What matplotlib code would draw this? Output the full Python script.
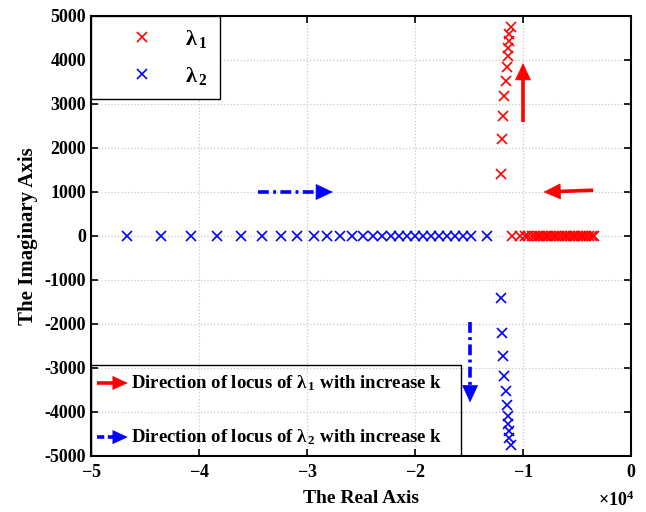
import matplotlib
matplotlib.use("Agg")
import matplotlib.pyplot as plt
import numpy as np
from matplotlib.ticker import ScalarFormatter, MultipleLocator
from matplotlib.patches import Rectangle

plt.rcParams['font.family'] = ['Liberation Serif', 'DejaVu Serif']
plt.rcParams['font.weight'] = 'bold'
plt.rcParams['axes.unicode_minus'] = False
plt.rcParams['mathtext.fontset'] = 'custom'
plt.rcParams['mathtext.rm'] = 'Liberation Serif:bold'
plt.rcParams['mathtext.it'] = 'Liberation Serif:bold'
plt.rcParams['mathtext.bf'] = 'Liberation Serif:bold'

# --- data (real parts x1e4, imaginary parts) ---
# lambda1 on the real axis (red)
l1_real_axis = np.array([-1.105, -1.03, -0.985, -0.95, -0.92, -0.89, -0.865, -0.84, -0.815,
                         -0.79, -0.765, -0.74, -0.715, -0.69, -0.665, -0.64, -0.615, -0.59,
                         -0.565, -0.54, -0.515, -0.49, -0.465, -0.44, -0.415, -0.39, -0.365,
                         -0.34]) * 1e4
# complex branch (real, imag); lambda1 upper, lambda2 its conjugate
branch_real = np.array([-1.2065, -1.191, -1.182, -1.173, -1.160, -1.145, -1.136, -1.136,
                        -1.130, -1.127, -1.111]) * 1e4
branch_imag = np.array([1400, 2210, 2727, 3182, 3520, 3848, 4090, 4265, 4430, 4600, 4755])

# lambda2 on the real axis (blue)
l2_real_axis = np.array([-4.667, -4.352, -4.074, -3.833, -3.611, -3.417, -3.241, -3.093,
                         -2.935, -2.815, -2.694, -2.583, -2.481, -2.389, -2.306, -2.222,
                         -2.148, -2.074, -2.0, -1.926, -1.852, -1.778, -1.704, -1.630,
                         -1.556, -1.481, -1.333]) * 1e4

legend_labels = [r'λ$_{\,1}$', r'λ$_{\,2}$']
box_labels = ['Direction of locus of λ$_{\\,1}$ with increase k',
              'Direction of locus of λ$_{\\,2}$ with increase k']

fig = plt.figure(figsize=(6.46, 5.12), dpi=100)
ax = fig.add_axes([91/646, 56/512, 540/646, 440/512])

ms = 7
mew = 1.2
l1, = ax.plot(np.concatenate([l1_real_axis, branch_real]),
              np.concatenate([np.zeros_like(l1_real_axis), branch_imag]),
              linestyle='none', marker='x', color='red', ms=ms, mew=mew, label=legend_labels[0])
l2, = ax.plot(np.concatenate([l2_real_axis, branch_real]),
              np.concatenate([np.zeros_like(l2_real_axis), -branch_imag]),
              linestyle='none', marker='x', color='blue', ms=ms, mew=mew, label=legend_labels[1])

ax.set_xlim(-5e4, 0)
ax.set_ylim(-5000, 5000)
ax.yaxis.set_major_locator(MultipleLocator(1000))
ax.xaxis.set_major_locator(MultipleLocator(1e4))
fmt = ScalarFormatter(useMathText=True)
fmt.set_powerlimits((0, 0))
ax.xaxis.set_major_formatter(fmt)
ax.xaxis.get_offset_text().set_visible(False)
fig.text(634/646, 1 - 500/512, r'$\times$10$^4$', ha='right', va='center', fontsize=13,
         fontweight='bold')

ax.grid(True, linestyle=':', color='#c8c8c8', linewidth=0.9)
ax.set_axisbelow(True)
ax.tick_params(direction='in', top=True, right=True, length=5, width=1.2, labelsize=13)
ax.tick_params(axis='x', pad=6)
for lab in ax.get_xticklabels() + ax.get_yticklabels():
    lab.set_fontweight('bold')
for s in ax.spines.values():
    s.set_linewidth(1.5)

ax.set_xlabel('The Real Axis', fontsize=14, fontweight='bold', labelpad=6)
ax.set_ylabel('The Imaginary Axis', fontsize=15, fontweight='bold', labelpad=5)

fig.canvas.draw()

HEAD_LEN_PX = 16
HEAD_HALF_PX = 7.5


def arrow(x0, y0, x1, y1, color, ls, trans, head_len=HEAD_LEN_PX, head_half=HEAD_HALF_PX, lw=2.6):
    p0 = trans.transform((x0, y0))
    p1 = trans.transform((x1, y1))
    d = p1 - p0
    n = d / np.hypot(*d)
    pb = p1 - n * head_len
    base = trans.inverted().transform(pb)
    ax.plot([x0, base[0]], [y0, base[1]], color=color, lw=lw, linestyle=ls,
            transform=trans, solid_capstyle='butt', dash_capstyle='butt', zorder=4)
    hl = head_len * 72 / fig.dpi
    hw = head_half * 72 / fig.dpi
    ax.annotate('', xy=(x1, y1), xytext=(base[0], base[1]), xycoords=trans, textcoords=trans,
                arrowprops=dict(arrowstyle=f'-|>,head_length={hl},head_width={hw}',
                                color=color, lw=0.5, shrinkA=0, shrinkB=0,
                                mutation_scale=1), zorder=4)


dashdot = (0, (3.0, 1.2, 0.8, 1.2))
arrow(-1.0e4, 2600, -1.0e4, 3930, 'red', '-', ax.transData)
arrow(-0.35e4, 1040, -0.81e4, 1000, 'red', '-', ax.transData)
arrow(-3.45e4, 1000, -2.76e4, 1000, 'blue', dashdot, ax.transData)
arrow(-1.49e4, -1950, -1.49e4, -3780, 'blue', dashdot, ax.transData)

leg = ax.legend(handles=[l1, l2], loc='upper left', bbox_to_anchor=(0, 1), borderaxespad=0,
                fontsize=16, fancybox=False, edgecolor='black', framealpha=1,
                handlelength=3.5, handletextpad=0.2, labelspacing=0.65, borderpad=0.55)
leg.get_frame().set_linewidth(1.0)
leg.set_zorder(6)

# lower annotation box (transparent)
ax.add_patch(Rectangle((0, 0), 0.685, 0.207, transform=ax.transAxes, fill=False,
                       edgecolor='black', lw=1.0, zorder=5))
for yy, color, ls, lab in [(0.166, 'red', '-', box_labels[0]),
                           (0.043, 'blue', (0, (2.0, 1.0, 2.0, 1.0)), box_labels[1])]:
    arrow(0.011, yy, 0.068, yy, color, ls, ax.transAxes, head_len=14, head_half=6.5, lw=2.6)
    ax.text(0.074, yy, lab, transform=ax.transAxes, fontsize=13.5, fontweight='bold',
            va='center', ha='left')

fig.savefig('out.png', dpi=100)
